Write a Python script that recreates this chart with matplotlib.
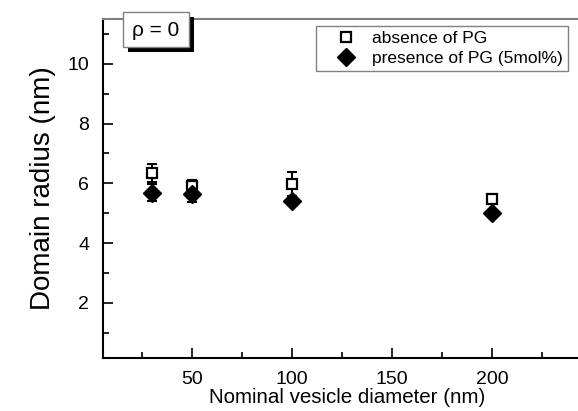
import matplotlib
matplotlib.use("Agg")
import matplotlib.pyplot as plt
from matplotlib.patches import Rectangle

diam = [30, 50, 100, 200]
absent = [6.35, 5.92, 5.98, 5.48]
absent_err = [0.3, 0.2, 0.4, 0.0]
present = [5.69, 5.65, 5.4, 5.02]
present_err = [0.27, 0.27, 0.0, 0.0]

plt.rcParams['font.family'] = ['Liberation Sans', 'DejaVu Sans']

fig = plt.figure(figsize=(5.78, 4.11), dpi=100)
# axes runs past the right edge of the figure, like the cropped original
ax = fig.add_axes([103/578, 1-358/411, 489/578, 339/411])

ax.errorbar(diam, absent, yerr=absent_err, fmt='none', ecolor='black',
            elinewidth=1.5, capsize=3.5, capthick=1.5)
ax.errorbar(diam, present, yerr=present_err, fmt='none', ecolor='black',
            elinewidth=1.5, capsize=3.5, capthick=1.5)
ax.plot(diam, absent, 's', mfc='white', mec='black', mew=1.6, ms=7.5,
        ls='none', label='absence of PG')
ax.plot(diam, present, 'D', color='black', ms=9.5, ls='none',
        label='presence of PG (5mol%)')

ax.set_xlim(5.5, 250)
ax.set_ylim(0.15, 11.5)
ax.set_xticks([50, 100, 150, 200])
ax.set_xticks([25, 75, 125, 175, 225], minor=True)
ax.set_yticks([2, 4, 6, 8, 10])
ax.set_yticks([1, 3, 5, 7, 9, 11], minor=True)
ax.tick_params(which='both', direction='in', labelsize=14, width=1.2)
ax.tick_params(which='major', length=7)
ax.tick_params(which='minor', length=4)
ax.tick_params(axis='x', pad=9)
ax.tick_params(axis='y', pad=10)
ax.set_xlabel('Nominal vesicle diameter (nm)', fontsize=14.8, labelpad=0)
ax.set_ylabel('Domain radius (nm)', fontsize=20, labelpad=8)
for s in ['left', 'bottom']:
    ax.spines[s].set_linewidth(1.5)
ax.spines['top'].set_color('gray')
ax.spines['top'].set_linewidth(1.5)

ax.legend(loc='upper right', bbox_to_anchor=(0.951, 0.979), borderaxespad=0,
          fontsize=12.5, frameon=True, fancybox=False, edgecolor='gray',
          handletextpad=0.05, borderpad=0.3, labelspacing=0.25,
          handlelength=2.9, framealpha=1)

# rho label box with black drop shadow
fig.add_artist(Rectangle((128/578, 1-52/411), 66/578, 35/411,
                         transform=fig.transFigure, fc='black', ec='none', zorder=5))
fig.add_artist(Rectangle((123/578, 1-47/411), 66/578, 35/411,
                         transform=fig.transFigure, fc='white', ec='gray', lw=1, zorder=6))
fig.text(156/578, 1-31/411, 'ρ = 0', fontsize=15, ha='center', va='center', zorder=7)

fig.savefig('out.png', dpi=100)
